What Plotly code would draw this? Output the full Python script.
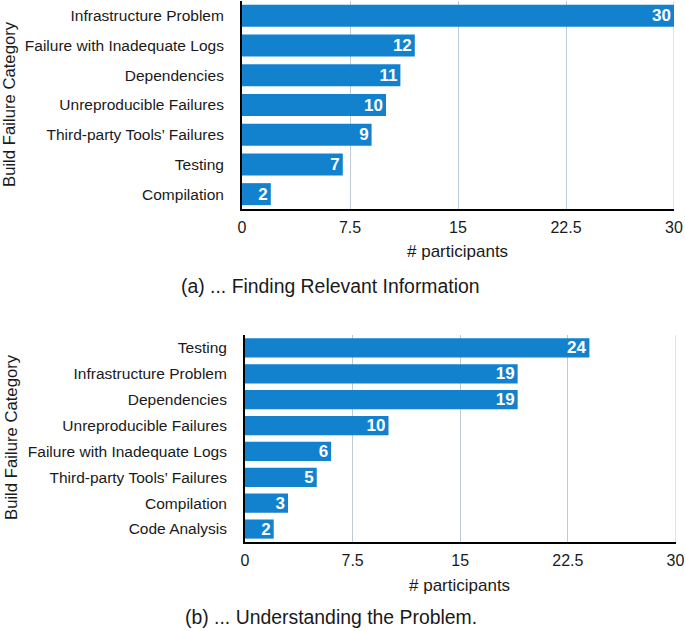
import plotly.graph_objects as go

# ---- data ----
cats_a = ["Infrastructure Problem", "Failure with Inadequate Logs", "Dependencies",
          "Unreproducible Failures", "Third-party Tools’ Failures", "Testing", "Compilation"]
vals_a = [30, 12, 11, 10, 9, 7, 2]

cats_b = ["Testing", "Infrastructure Problem", "Dependencies", "Unreproducible Failures",
          "Failure with Inadequate Logs", "Third-party Tools’ Failures", "Compilation", "Code Analysis"]
vals_b = [24, 19, 19, 10, 6, 5, 3, 2]

tick_vals = [0, 7.5, 15, 22.5, 30]
tick_text = ["0", "7.5", "15", "22.5", "30"]

caption_a = "(a) ... Finding Relevant Information"
caption_b = "(b) ... Understanding the Problem."
x_title = "# participants"
y_title = "Build Failure Category"

W, H = 685, 631
BAR = "#1382CE"
FONT = "Liberation Sans, Arial, Helvetica, sans-serif"
TXT = "#1a1a1a"
GRID = "#bccbd6"

def px(x):
    return x / W

def py(y):
    return 1 - y / H

fig = go.Figure()
for vals, cats, xa, ya in [(vals_a, cats_a, "x", "y"), (vals_b, cats_b, "x2", "y2")]:
    fig.add_trace(go.Bar(x=vals, y=cats, orientation="h", xaxis=xa, yaxis=ya,
                         marker=dict(color=BAR, line=dict(width=0)),
                         text=[str(v) for v in vals], textposition="inside",
                         insidetextanchor="end", textangle=0,
                         textfont=dict(color="white", size=17, family=FONT, weight="bold"),
                         hoverinfo="skip", showlegend=False))

xcommon = dict(range=[0, 30], tickvals=tick_vals, ticktext=tick_text,
               showgrid=True, gridcolor=GRID, gridwidth=1, zeroline=False,
               showline=True, linecolor="black", linewidth=2,
               ticks="outside", ticklen=3, tickcolor="rgba(0,0,0,0)",
               ticklabeloverflow="allow", automargin=False,
               tickfont=dict(size=16, color=TXT, family=FONT), fixedrange=True)
ycommon = dict(autorange="reversed", showgrid=False, zeroline=False,
               showline=True, linecolor="black", linewidth=2,
               ticks="outside", ticklen=13, tickcolor="rgba(0,0,0,0)",
               automargin=False,
               tickfont=dict(size=15.5, color=TXT, family=FONT), fixedrange=True)

fig.update_layout(
    width=W, height=H, autosize=False,
    margin=dict(l=0, r=0, t=0, b=0, autoexpand=False),
    paper_bgcolor="white", plot_bgcolor="white",
    bargap=0.26,
    font=dict(family=FONT, color=TXT),
    uniformtext=dict(minsize=16, mode="show"),
    xaxis=dict(domain=[px(242), px(674)], anchor="y", **xcommon),
    yaxis=dict(domain=[py(209), py(1)], anchor="x", **ycommon),
    xaxis2=dict(domain=[px(245), px(675.5)], anchor="y2", **xcommon),
    yaxis2=dict(domain=[py(542), py(335)], anchor="x2", **ycommon),
)

# vertical grid line at the right end of each axis (plotly skips it at the range edge)
for xr, yr in [("x", "y domain"), ("x2", "y2 domain")]:
    fig.add_shape(type="line", x0=30, x1=30, y0=0, y1=1, xref=xr, yref=yr,
                  line=dict(color=GRID, width=1), layer="below")

ann = [
    dict(text=x_title, x=px(457), y=py(252), size=17, angle=0),
    dict(text=x_title, x=px(460), y=py(585), size=17, angle=0),
    dict(text=caption_a, x=px(330), y=py(286), size=19.4, angle=0),
    dict(text=caption_b, x=px(331), y=py(617), size=19.4, angle=0),
    dict(text=y_title, x=px(10), y=py(104), size=16.7, angle=-90),
    dict(text=y_title, x=px(11), y=py(437), size=16.7, angle=-90),
]
for a in ann:
    fig.add_annotation(text=a["text"], x=a["x"], y=a["y"], xref="paper", yref="paper",
                       showarrow=False, textangle=a["angle"], xanchor="center", yanchor="middle",
                       font=dict(size=a["size"], color=TXT, family=FONT))

fig.write_html("out.html",
               config=dict(displayModeBar=False, responsive=False, staticPlot=True),
               post_script="document.body.style.margin='0';document.body.style.overflow='hidden';"
                           "document.documentElement.style.overflow='hidden';")
